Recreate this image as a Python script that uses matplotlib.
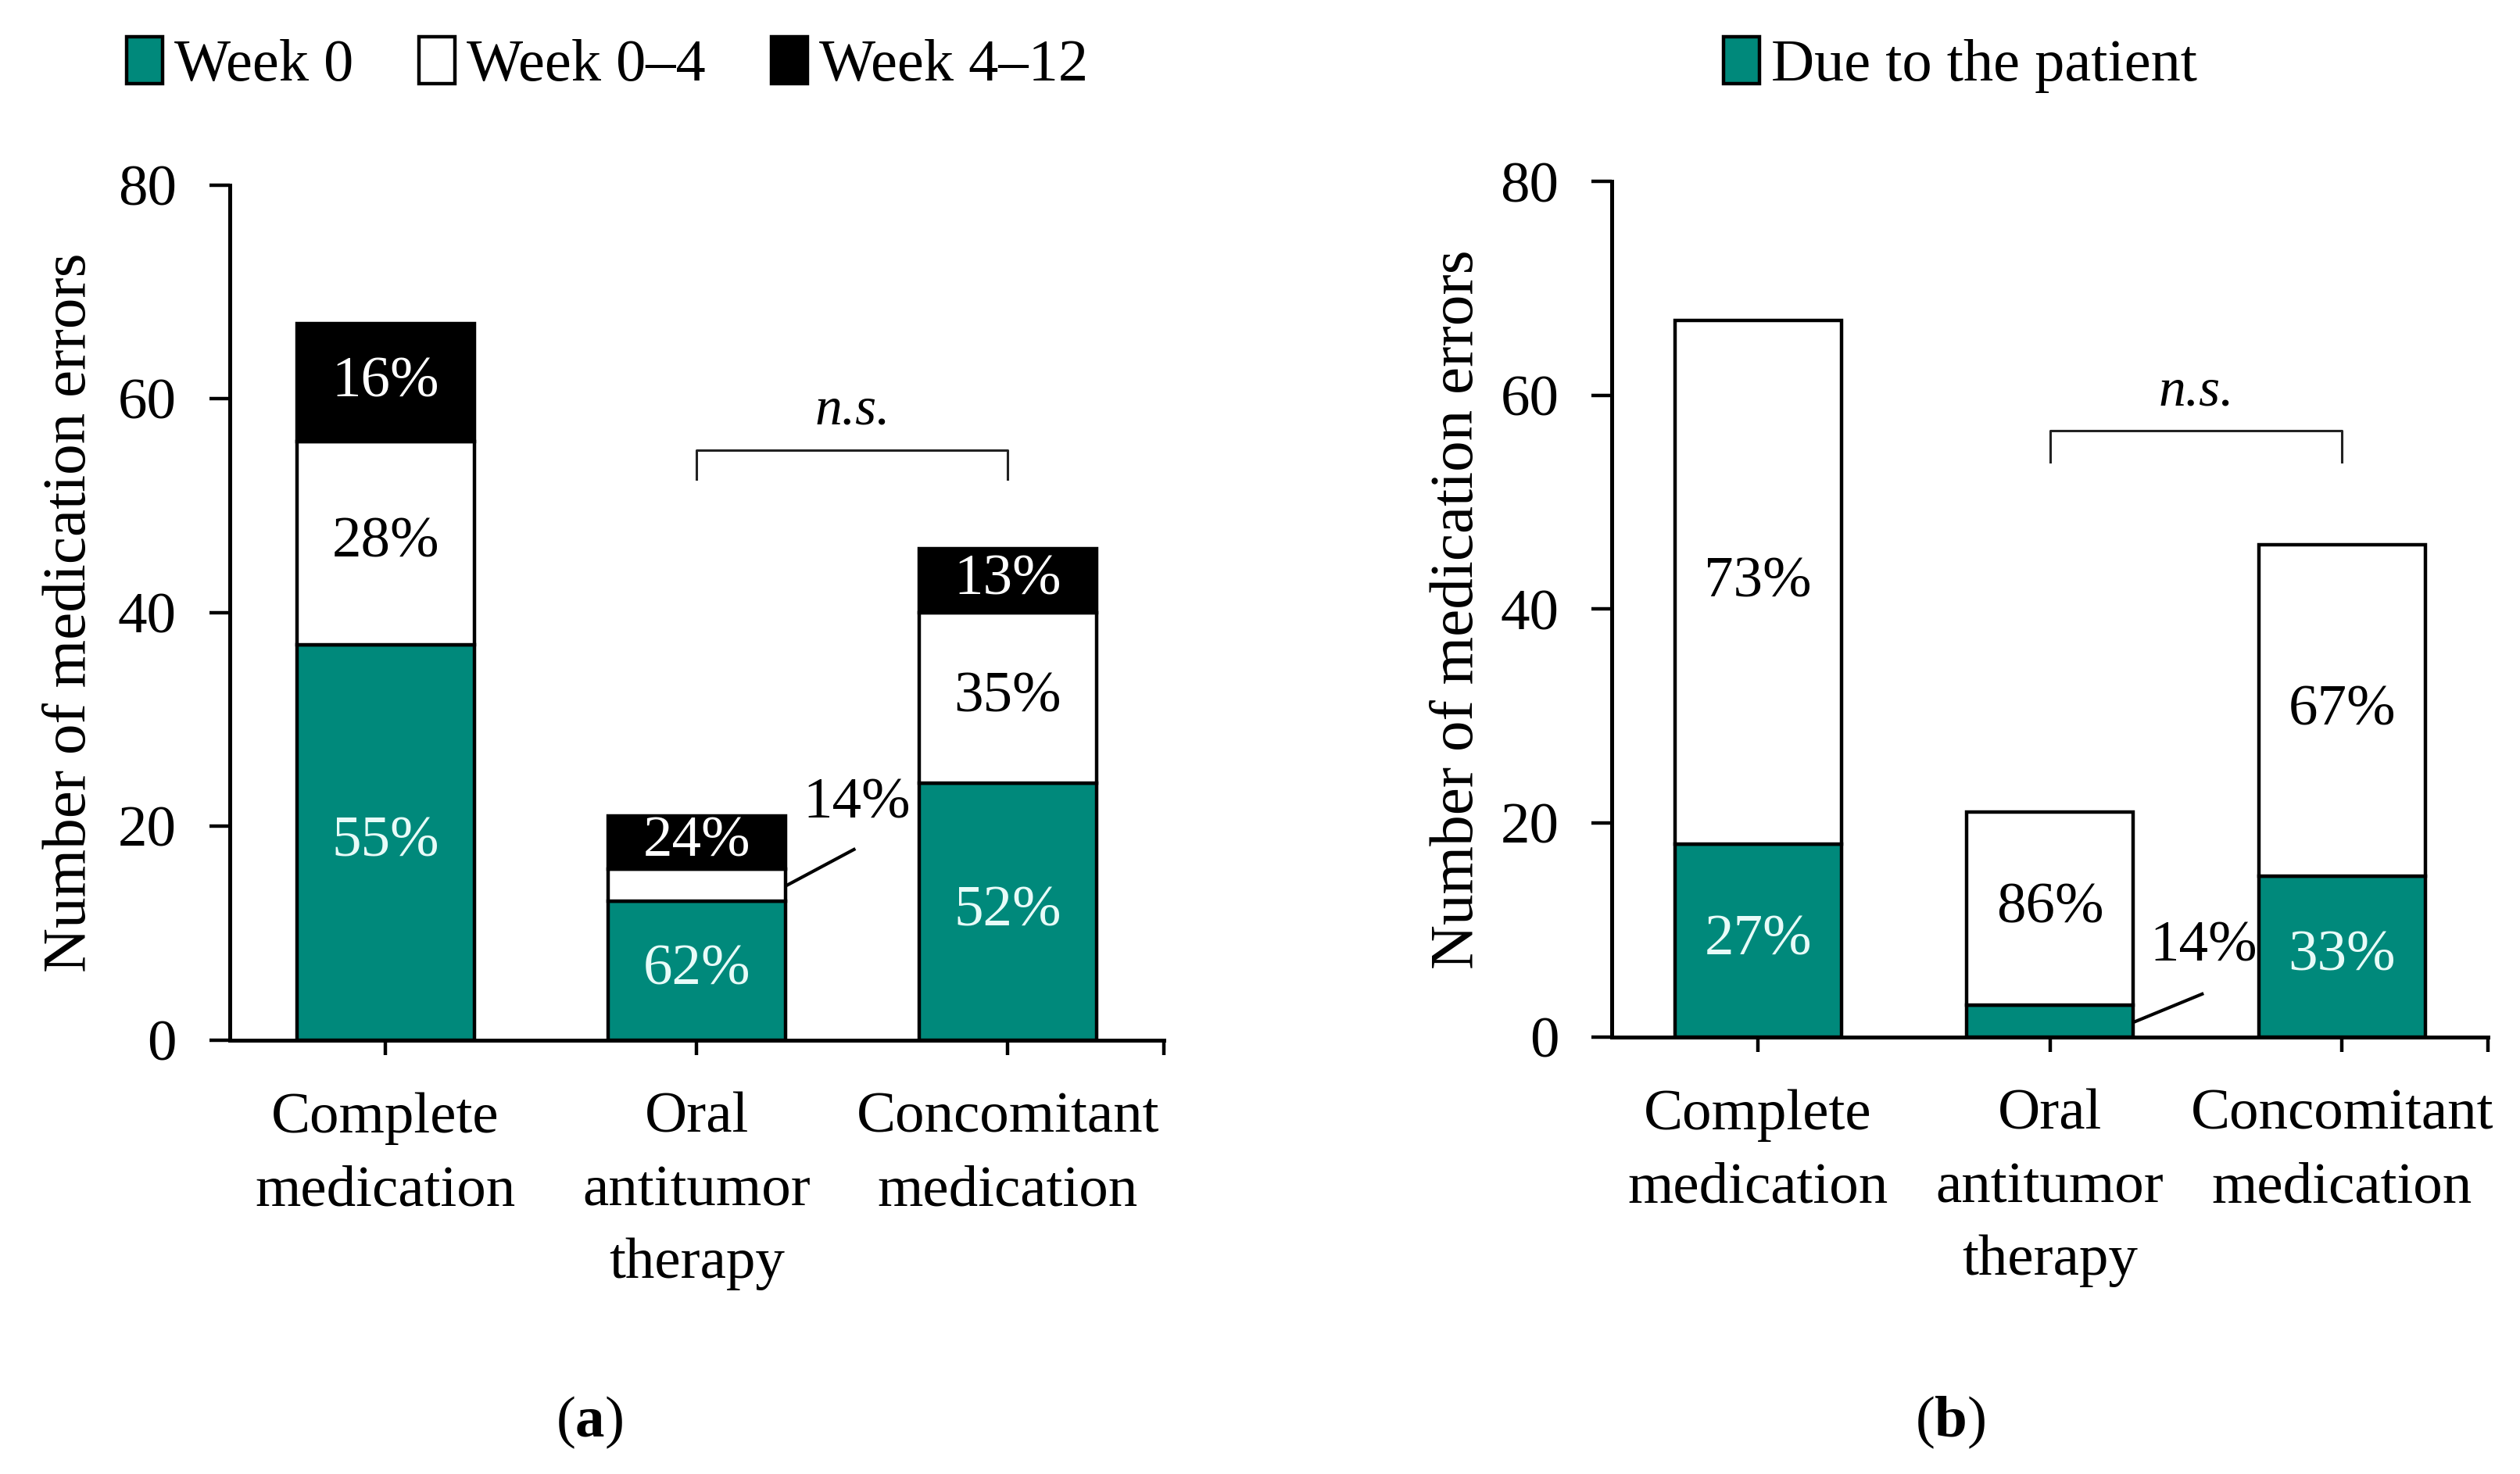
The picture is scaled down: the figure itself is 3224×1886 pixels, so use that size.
import numpy as np
import matplotlib
matplotlib.use("Agg")
import matplotlib.pyplot as plt

# ============================================================
# CONFIG
# ============================================================
plt.rcParams['font.family'] = ['Liberation Serif', 'DejaVu Serif']
plt.rcParams['mathtext.fontset'] = 'custom'
plt.rcParams['mathtext.rm'] = 'Liberation Serif'
plt.rcParams['mathtext.bf'] = 'Liberation Serif:bold'
plt.rcParams['mathtext.it'] = 'Liberation Serif:italic'

TEAL = '#00897B'
FS = 27

CATEGORIES = ["Complete\nmedication", "Oral\nantitumor\ntherapy", "Concomitant\nmedication"]

# panel (a): errors by time of detection
WEEK0 = [37, 13, 24]
WEEK0_4 = [19, 3, 16]
WEEK4_12 = [11, 5, 6]

# panel (b): errors due to the patient vs. remaining
PATIENT = [18, 3, 15]
OTHER = [49, 18, 31]

YMAX = 80
YTICKS = [0, 20, 40, 60, 80]
BAR_W = 0.57


def style_axes(ax):
    ax.set_xlim(-0.5, 2.5)
    ax.set_ylim(0, YMAX)
    ax.set_yticks(YTICKS)
    ax.set_xticks([0, 1, 2, 2.5])
    ax.set_xticklabels(CATEGORIES + [""], fontsize=FS, linespacing=1.5)
    ax.tick_params(axis='y', direction='out', length=9.5, width=1.6, pad=15, labelsize=FS)
    ax.tick_params(axis='x', direction='out', length=7, width=1.6, pad=17, labelsize=FS)
    ax.spines[["top", "right"]].set_visible(False)
    ax.spines["left"].set_linewidth(1.8)
    ax.spines["bottom"].set_linewidth(1.8)
    ax.set_ylabel("Number of medication errors", fontsize=FS + 1.5)


def label_segments(ax, x, bottoms, heights, totals, colors, skip=()):
    for i in range(len(x)):
        if i in skip:
            continue
        pct = round(100 * heights[i] / totals[i])
        ax.text(x[i], bottoms[i] + heights[i] / 2, f"{pct}%", ha='center', va='center',
                fontsize=FS, color=colors)


def callout(ax, x0, y0, x1, y1, tx, ty, text):
    # small segment label placed outside the bar with a leader line
    ax.plot([x0, x1], [y0, y1], color='black', lw=1.5, solid_capstyle='butt', zorder=3)
    ax.text(tx, ty, text, ha='center', va='center', fontsize=FS)


def bracket(ax, x0, x1, y, h, text):
    ax.plot([x0, x0, x1, x1], [y - h, y, y, y - h], color='#222222', lw=1.1)
    ax.text((x0 + x1) / 2, y + 1.3, text, ha='center', va='bottom', fontsize=FS - 2,
            fontstyle='italic')


fig = plt.figure(figsize=(16.12, 9.43), dpi=200, facecolor='white')
ax_a = fig.add_axes([0.0912, 0.2944, 0.3705, 0.5802])
ax_b = fig.add_axes([0.6397, 0.2966, 0.3476, 0.5802])

x = np.arange(len(CATEGORIES))
edge = dict(edgecolor='black', linewidth=1.6, zorder=2)

# ---- panel (a)
w0 = np.array(WEEK0)
w04 = np.array(WEEK0_4)
w412 = np.array(WEEK4_12)
tot_a = w0 + w04 + w412
ax_a.bar(x, w0, BAR_W, color=TEAL, label="Week 0", **edge)
ax_a.bar(x, w04, BAR_W, bottom=w0, color='white', label="Week 0\u20134", **edge)
ax_a.bar(x, w412, BAR_W, bottom=w0 + w04, color='black', label="Week 4\u201312", **edge)
style_axes(ax_a)

label_segments(ax_a, x, np.zeros(3), w0, tot_a, '#e8fbf8')
label_segments(ax_a, x, w0, w04, tot_a, 'black', skip=(1,))
label_segments(ax_a, x, w0 + w04, w412, tot_a, 'white')
callout(ax_a, 1 + BAR_W / 2, 14.4, 1.51, 17.9, 1.515, 22.1,
        f"{round(100 * w04[1] / tot_a[1])}%")
bracket(ax_a, 1, 2, 55.2, 2.7, "n.s.")

ax_a.legend(loc='center', bbox_to_anchor=(0.241, 0.956), bbox_transform=fig.transFigure,
            ncol=3, frameon=False, fontsize=FS + 0.5, handlelength=0.6, handleheight=0.85,
            handletextpad=0.2, columnspacing=1.1, borderaxespad=0)
ax_a.yaxis.set_label_coords(-0.141, 0.5)

# ---- panel (b)
pat = np.array(PATIENT)
oth = np.array(OTHER)
tot_b = pat + oth
ax_b.bar(x, pat, BAR_W, color=TEAL, label="Due to the patient", **edge)
ax_b.bar(x, oth, BAR_W, bottom=pat, color='white', **edge)
style_axes(ax_b)

label_segments(ax_b, x, np.zeros(3), pat, tot_b, '#e8fbf8', skip=(1,))
label_segments(ax_b, x, pat, oth, tot_b, 'black')
callout(ax_b, 1 + BAR_W / 2, 1.35, 1.526, 4.06, 1.526, 8.4,
        f"{round(100 * pat[1] / tot_b[1])}%")
bracket(ax_b, 1, 2, 56.7, 2.9, "n.s.")

ax_b.legend(loc='center', bbox_to_anchor=(0.778, 0.956), bbox_transform=fig.transFigure,
            frameon=False, fontsize=FS + 0.5, handlelength=0.6, handleheight=0.85,
            handletextpad=0.2, borderaxespad=0)
ax_b.yaxis.set_label_coords(-0.144, 0.5)

fig.text(0.234, 0.035, r"($\mathbf{a}$)", ha='center', va='center', fontsize=FS)
fig.text(0.774, 0.035, r"($\mathbf{b}$)", ha='center', va='center', fontsize=FS)

fig.savefig("out.png", dpi=200, facecolor='white')
